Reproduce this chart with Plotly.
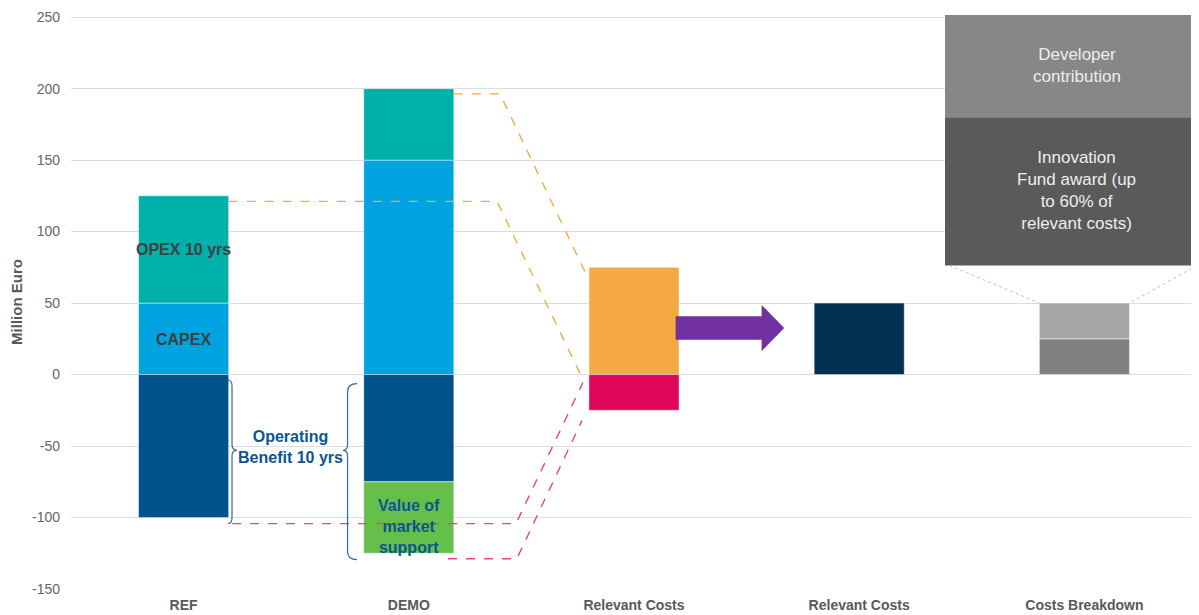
import plotly.graph_objects as go

# ---- data ----
categories = ["REF", "DEMO", "Relevant Costs", "Relevant Costs", "Costs Breakdown"]
capex = [50, 150, None, None, None]
opex = [75, 50, None, None, None]
operating_benefit = [-100, -75, None, None, None]
market_support = [None, -50, None, None, None]
relevant_pos = [None, None, 75, None, None]
relevant_neg = [None, None, -25, None, None]
relevant_net = [None, None, None, 50, None]
fund_award_part = [None, None, None, None, 25]
developer_part = [None, None, None, None, 25]
y_ticks = [-150, -100, -50, 0, 50, 100, 150, 200, 250]

xs = list(range(len(categories)))

series = [
    (capex, "#00a3e0"),
    (opex, "#00b0aa"),
    (operating_benefit, "#00538a"),
    (market_support, "#66bf4b"),
    (relevant_pos, "#f4a942"),
    (relevant_neg, "#e0065a"),
    (relevant_net, "#00324f"),
    (fund_award_part, "#7f7f7f"),
    (developer_part, "#a6a6a6"),
]

fig = go.Figure()
for vals, col in series:
    fig.add_trace(go.Bar(
        x=xs, y=vals, width=0.4, marker_color=col,
        marker_line=dict(width=1, color="rgba(255,255,255,0.45)"),
        showlegend=False, hoverinfo="skip"))

shapes = []
ORANGE = "#f4a942"
PINK = "#e8457f"

def poly(pts, color, dash="dash", width=1.4):
    d = "M " + " L ".join(f"{x},{y}" for x, y in pts)
    return dict(type="path", path=d, xref="x", yref="y", layer="above",
                line=dict(color=color, width=width, dash=dash))

# dashed connector lines
shapes.append(poly([(1.2, 196.3), (1.405, 196.3), (1.79, 69.3)], ORANGE))
shapes.append(poly([(0.2, 121.1), (1.392, 121.1), (1.769, -2.1)], ORANGE))
shapes.append(poly([(0.215, -104.3), (1.476, -104.3), (1.773, -5.6)], PINK))
shapes.append(poly([(1.174, -128.8), (1.48, -128.8), (1.769, -32.2)], PINK))

# braces
BR = "#2e6a9e"
shapes.append(dict(type="path", xref="x", yref="y", layer="above",
    path="M 0.197,-3.8 Q 0.215,-3.8 0.215,-8 L 0.215,-49 Q 0.215,-53 0.237,-53 "
         "Q 0.215,-53 0.215,-57 L 0.215,-100 Q 0.215,-104.3 0.197,-104.3",
    line=dict(color=BR, width=1.2)))
shapes.append(dict(type="path", xref="x", yref="y", layer="above",
    path="M 0.77,-6.3 Q 0.728,-6.3 0.728,-12 L 0.728,-49 Q 0.728,-53 0.708,-53 "
         "Q 0.728,-53 0.728,-57 L 0.728,-124 Q 0.728,-129.5 0.77,-129.5",
    line=dict(color=BR, width=1.2)))

# purple arrow
shapes.append(dict(type="path", xref="x", yref="y", layer="above",
    path="M 2.186,40.6 L 2.568,40.6 L 2.568,48.3 L 2.666,32.6 L 2.568,16.8 "
         "L 2.568,24.5 L 2.186,24.5 Z",
    fillcolor="#7030a0", line=dict(color="#7030a0", width=0.5)))

# callout box
shapes.append(dict(type="rect", xref="x", yref="y", layer="above",
    x0=3.381, x1=4.5, y0=180, y1=251.5, fillcolor="#878787", line=dict(width=0)))
shapes.append(dict(type="rect", xref="x", yref="y", layer="above",
    x0=3.381, x1=4.5, y0=76.3, y1=180, fillcolor="#5a5a5a", line=dict(width=0)))
shapes.append(dict(type="line", xref="x", yref="y", layer="above",
    x0=3.4, y0=76.3, x1=3.8, y1=50, line=dict(color="#bfbfbf", width=1, dash="dot")))
shapes.append(dict(type="line", xref="x", yref="y", layer="above",
    x0=4.5, y0=76.3, x1=4.2, y1=50, line=dict(color="#bfbfbf", width=1, dash="dot")))

fig.update_layout(shapes=shapes)

FONT = "Liberation Sans, Arial, sans-serif"
ann = []
def label(x, y, text, color, size=16, bold=True):
    ann.append(dict(x=x, y=y, xref="x", yref="y", text=(f"<b>{text}</b>" if bold else text),
                    showarrow=False, font=dict(family=FONT, size=size, color=color),
                    align="center"))

label(0, 87.5, "OPEX 10 yrs", "#404040")
label(0, 24.5, "CAPEX", "#404040")
label(0.475, -51, "Operating<br>Benefit 10 yrs", "#0b5591")
label(1, -106, "Value of<br>market<br>support", "#0b5591")
label(3.965, 216, "Developer<br>contribution", "#eeeeee", size=17, bold=False)
label(3.965, 129, "Innovation<br>Fund award (up<br>to 60% of<br>relevant costs)", "#eeeeee", size=17, bold=False)
fig.update_layout(annotations=ann)

fig.update_layout(
    width=1191, height=607,
    margin=dict(l=63, r=2, t=7, b=26),
    plot_bgcolor="white", paper_bgcolor="white",
    barmode="relative", bargap=0.6,
    font=dict(family=FONT, color="#595959"),
    xaxis=dict(range=[-0.5, 4.5], tickvals=xs, ticktext=[f"<b>{c}</b>" for c in categories],
               tickfont=dict(size=14, color="#595959"), showgrid=False, zeroline=False,
               showline=False, ticks="", ticklabelstandoff=6),
    yaxis=dict(range=[-150, 251.5], tickvals=y_ticks, ticktext=[str(v) for v in y_ticks],
               tickfont=dict(size=14, color="#666666"),
               gridcolor="#dcdcdc", gridwidth=1, zeroline=True, zerolinecolor="#dcdcdc",
               zerolinewidth=1, showline=False, ticks="", ticklabelstandoff=10,
               title=dict(text="<b>Million Euro</b>", font=dict(size=15, color="#595959"),
                          standoff=6)),
)

fig.write_html("out.html")
